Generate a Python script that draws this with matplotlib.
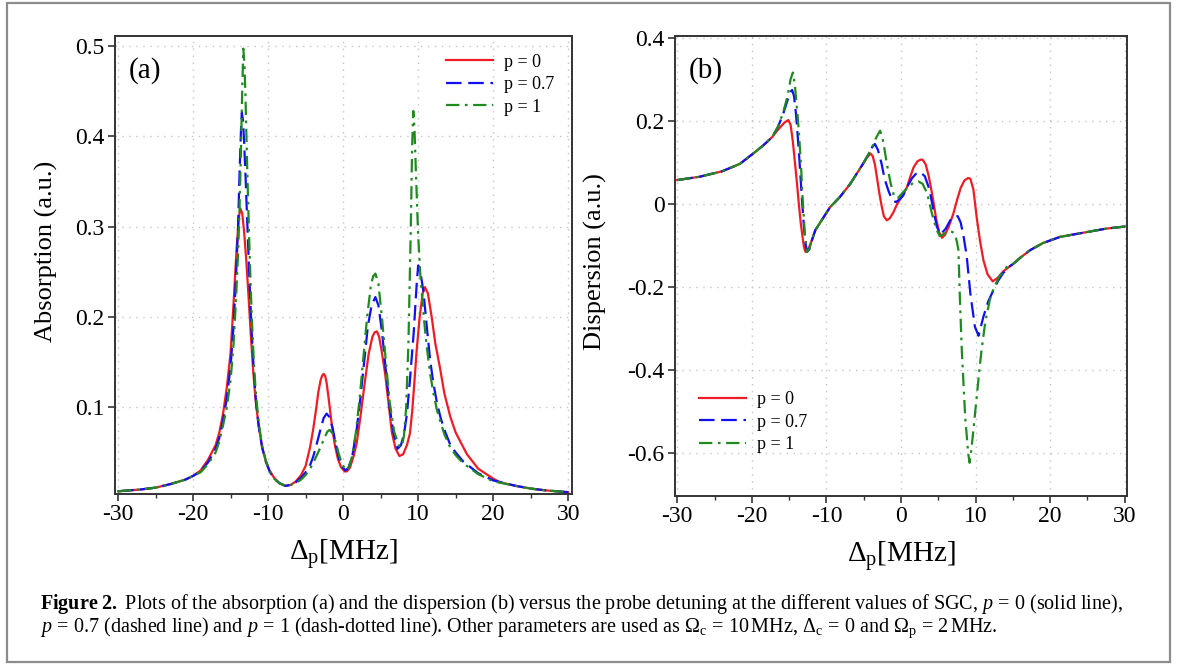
import matplotlib
matplotlib.use("Agg")
import matplotlib.pyplot as plt
from matplotlib.patches import Rectangle
from matplotlib.ticker import MultipleLocator

# ---------------- data ----------------
series_labels = ["p = 0", "p = 0.7", "p = 1"]

# Absorption, p = 0
abs_x0 = [-30, -27, -25, -23, -21, -20, -19, -18, -17, -16.5, -16, -15.5, -15, -14.6, -14.2, -13.9, -13.7,
          -13.45, -13.2, -12.9, -12.6, -12.3, -12, -11.7, -11.3, -10.8, -10.3, -9.8, -9.2, -8.5, -7.7, -7,
          -6.3, -5.6, -5, -4.4, -4, -3.6, -3.3, -3, -2.8, -2.6, -2.4, -2.2, -1.9, -1.5, -1.1, -0.7, -0.3,
          0.2, 0.5, 0.9, 1.4, 1.8, 2.3, 2.8, 3.4, 3.9, 4.2, 4.5, 4.8, 5.1, 5.6, 6, 6.5, 7, 7.5, 8, 8.5,
          8.9, 9.2, 9.5, 9.8, 10.2, 10.6, 10.9, 11.3, 11.8, 12.3, 12.9, 13.5, 14.3, 15, 16, 16.5, 18, 20,
          20.9, 23, 25, 27, 30]
abs_y0 = [0.007, 0.009, 0.011, 0.015, 0.020, 0.024, 0.030, 0.042, 0.058, 0.072, 0.093, 0.122, 0.160, 0.215,
          0.275, 0.310, 0.320, 0.315, 0.295, 0.262, 0.222, 0.180, 0.142, 0.111, 0.082, 0.056, 0.040, 0.030,
          0.022, 0.016, 0.013, 0.014, 0.018, 0.025, 0.035, 0.056, 0.075, 0.098, 0.117, 0.130, 0.135, 0.137,
          0.135, 0.127, 0.108, 0.080, 0.058, 0.043, 0.034, 0.029, 0.029, 0.033, 0.046, 0.060, 0.089, 0.122,
          0.159, 0.178, 0.183, 0.184, 0.178, 0.164, 0.137, 0.108, 0.072, 0.054, 0.046, 0.048, 0.058, 0.071,
          0.095, 0.128, 0.163, 0.200, 0.226, 0.233, 0.226, 0.200, 0.170, 0.144, 0.115, 0.089, 0.072, 0.056,
          0.048, 0.032, 0.021, 0.017, 0.013, 0.010, 0.008, 0.006]

# Absorption, p = 0.7
abs_x1 = [-30, -27, -25, -23, -21, -20, -19, -18, -17, -16.5, -16, -15.5, -15, -14.6, -14.3, -14, -13.8, -13.6,
          -13.5, -13.35, -13.2, -13, -12.8, -12.5, -12.2, -11.9, -11.6, -11.2, -10.8, -10.3, -9.8, -9.2, -8.5,
          -7.7, -7, -6.3, -5.6, -5, -4.4, -4, -3.5, -3, -2.6, -2.2, -1.8, -1.4, -1, -0.6, -0.2, 0.3, 0.7, 1.2,
          1.8, 2.3, 2.8, 3.3, 3.8, 4.3, 4.7, 5.2, 5.7, 6.2, 6.7, 7.25, 7.7, 8.1, 8.5, 8.9, 9.4, 9.8, 10.0,
          10.3, 10.7, 11.2, 11.6, 12, 12.5, 13, 13.5, 14.3, 15, 16, 18, 20, 23, 25, 27, 30]
abs_y1 = [0.007, 0.009, 0.011, 0.015, 0.020, 0.024, 0.029, 0.039, 0.054, 0.066, 0.085, 0.110, 0.145, 0.190,
          0.240, 0.300, 0.360, 0.410, 0.426, 0.418, 0.395, 0.355, 0.310, 0.245, 0.185, 0.140, 0.105, 0.076,
          0.056, 0.040, 0.029, 0.021, 0.016, 0.013, 0.014, 0.017, 0.022, 0.028, 0.036, 0.045, 0.060, 0.076,
          0.088, 0.093, 0.089, 0.077, 0.060, 0.045, 0.035, 0.030, 0.033, 0.045, 0.075, 0.110, 0.150, 0.190,
          0.213, 0.222, 0.213, 0.182, 0.140, 0.100, 0.072, 0.054, 0.058, 0.070, 0.092, 0.130, 0.182, 0.236,
          0.257, 0.250, 0.228, 0.185, 0.152, 0.128, 0.105, 0.088, 0.075, 0.058, 0.050, 0.040, 0.027, 0.019,
          0.013, 0.010, 0.008, 0.006]

# Absorption, p = 1
abs_x2 = [-30, -27, -25, -23, -21, -20, -19, -18, -17, -16.5, -16, -15.5, -15, -14.6, -14.3, -14, -13.8, -13.6,
          -13.45, -13.3, -13.15, -13, -12.8, -12.5, -12.2, -11.9, -11.6, -11.2, -10.8, -10.3, -9.8, -9.2, -8.5,
          -7.7, -7, -6.3, -5.6, -5, -4.4, -4, -3.5, -3, -2.5, -2.1, -1.8, -1.4, -1, -0.6, -0.2, 0.4, 0.8, 1.2,
          1.7, 2.2, 2.7, 3.2, 3.7, 4.0, 4.3, 4.7, 5.2, 5.7, 6.2, 6.8, 7.4, 7.8, 8.1, 8.4, 8.7, 9.0, 9.2, 9.35,
          9.5, 9.7, 10.0, 10.3, 10.7, 11.1, 11.6, 12, 12.5, 13, 13.5, 14.3, 15, 16, 18, 20, 23, 25, 27, 30]
abs_y2 = [0.007, 0.009, 0.011, 0.015, 0.020, 0.024, 0.028, 0.037, 0.050, 0.062, 0.080, 0.100, 0.130, 0.170,
          0.215, 0.270, 0.320, 0.390, 0.450, 0.497, 0.480, 0.440, 0.370, 0.280, 0.205, 0.150, 0.112, 0.080,
          0.058, 0.041, 0.030, 0.021, 0.016, 0.013, 0.014, 0.016, 0.020, 0.025, 0.032, 0.038, 0.047, 0.056,
          0.066, 0.073, 0.075, 0.071, 0.062, 0.049, 0.038, 0.030, 0.034, 0.046, 0.072, 0.110, 0.155, 0.200,
          0.235, 0.245, 0.248, 0.237, 0.197, 0.150, 0.106, 0.073, 0.058, 0.056, 0.068, 0.100, 0.170, 0.290,
          0.390, 0.428, 0.410, 0.360, 0.290, 0.245, 0.204, 0.170, 0.137, 0.117, 0.097, 0.083, 0.070, 0.055,
          0.047, 0.038, 0.026, 0.018, 0.013, 0.010, 0.008, 0.006]

# Dispersion, p = 0
dis_x0 = [-30, -27, -24, -21.6, -19.6, -18.5, -17.3, -16.6, -16.2, -15.6, -15.1, -14.8, -14.5, -14.2, -13.9,
          -13.7, -13.45, -13.2, -13.0, -12.8, -12.5, -12.1, -11.5, -10.5, -9.5, -8.2, -6.8, -5.1, -4.6, -4.1,
          -3.8, -3.5, -3.2, -2.9, -2.6, -2.3, -1.9, -1.5, -1.0, -0.5, 0.2, 0.8, 1.3, 1.7, 2.2, 2.6, 2.9, 3.3,
          3.7, 4.0, 4.3, 4.7, 5.1, 5.5, 5.9, 6.4, 7.0, 7.5, 8.0, 8.5, 9.0, 9.3, 9.7, 10.2, 10.6, 11.05, 11.6,
          12.3, 13.0, 13.7, 14.5, 15.1, 16, 17.3, 19, 21.3, 25, 27.5, 30]
dis_y0 = [0.057, 0.065, 0.078, 0.096, 0.124, 0.140, 0.160, 0.176, 0.184, 0.196, 0.2016, 0.190, 0.150, 0.096,
          0.040, 0.000, -0.045, -0.080, -0.105, -0.116, -0.112, -0.095, -0.064, -0.036, -0.008, 0.016, 0.048,
          0.096, 0.110, 0.121, 0.115, 0.095, 0.060, 0.025, -0.005, -0.030, -0.040, -0.035, -0.020, 0.000,
          0.020, 0.040, 0.068, 0.088, 0.102, 0.106, 0.106, 0.095, 0.068, 0.040, 0.010, -0.035, -0.068, -0.082,
          -0.075, -0.055, -0.025, 0.008, 0.038, 0.056, 0.062, 0.060, 0.035, -0.040, -0.090, -0.136, -0.170,
          -0.187, -0.178, -0.163, -0.152, -0.144, -0.130, -0.112, -0.095, -0.080, -0.068, -0.060, -0.055]

# Dispersion, p = 0.7
dis_x1 = [-30, -27, -24, -21.6, -19.6, -18.5, -17.3, -16.5, -15.8, -15.2, -14.8, -14.6, -14.35, -14.1, -13.9,
          -13.6, -13.3, -13.0, -12.8, -12.6, -12.3, -12.1, -11.5, -10.5, -9.5, -8.2, -6.8, -5.1, -4.4, -3.9,
          -3.5, -3.1, -2.6, -2.2, -1.7, -1.2, -0.7, -0.2, 0.3, 0.8, 1.5, 2.0, 2.6, 3.2, 3.8, 4.3, 4.8, 5.3,
          6.0, 6.6, 7.2, 7.6, 8.0, 8.4, 8.8, 9.3, 9.9, 10.4, 11.05, 11.7, 12.4, 13.0, 13.7, 14.5, 15.1, 16,
          17.3, 19, 21.3, 25, 27.5, 30]
dis_y1 = [0.057, 0.065, 0.078, 0.096, 0.124, 0.140, 0.160, 0.185, 0.216, 0.250, 0.270, 0.274, 0.260, 0.220,
          0.176, 0.100, 0.016, -0.060, -0.096, -0.116, -0.110, -0.097, -0.064, -0.036, -0.008, 0.016, 0.048,
          0.096, 0.118, 0.135, 0.144, 0.130, 0.096, 0.060, 0.032, 0.010, 0.004, 0.010, 0.020, 0.040, 0.062,
          0.072, 0.076, 0.066, 0.035, -0.010, -0.055, -0.074, -0.060, -0.040, -0.030, -0.030, -0.045, -0.080,
          -0.125, -0.216, -0.296, -0.318, -0.272, -0.235, -0.208, -0.186, -0.167, -0.152, -0.144, -0.130,
          -0.112, -0.095, -0.080, -0.068, -0.060, -0.055]

# Dispersion, p = 1
dis_x2 = [-30, -27, -24, -21.6, -19.6, -18.5, -17.3, -16.5, -15.8, -15.2, -14.8, -14.5, -14.25, -14.0, -13.7,
          -13.4, -13.2, -12.9, -12.6, -12.3, -12.1, -11.5, -10.5, -9.5, -8.2, -6.8, -5.1, -4.4, -3.8, -3.3,
          -2.8, -2.5, -2.2, -1.9, -1.4, -0.9, -0.4, 0.3, 1.0, 1.6, 2.3, 2.9, 3.5, 4.1, 4.7, 5.2, 5.8, 6.4,
          6.9, 7.25, 7.5, 7.7, 7.9, 8.15, 8.6, 9.0, 9.2, 9.45, 9.9, 10.4, 10.8, 11.3, 11.9, 12.5, 13.2, 14.2,
          15.1, 16, 17.3, 19, 21.3, 25, 27.5, 30]
dis_y2 = [0.057, 0.065, 0.078, 0.096, 0.124, 0.140, 0.160, 0.185, 0.220, 0.260, 0.300, 0.316, 0.290, 0.240,
          0.176, 0.090, 0.016, -0.070, -0.116, -0.110, -0.097, -0.064, -0.036, -0.008, 0.016, 0.048, 0.096,
          0.118, 0.140, 0.160, 0.176, 0.160, 0.130, 0.096, 0.050, 0.016, 0.014, 0.028, 0.040, 0.050, 0.054,
          0.048, 0.025, -0.020, -0.060, -0.078, -0.072, -0.066, -0.068, -0.075, -0.092, -0.112, -0.230, -0.352,
          -0.512, -0.600, -0.624, -0.590, -0.510, -0.420, -0.352, -0.285, -0.232, -0.200, -0.175, -0.152,
          -0.144, -0.130, -0.112, -0.095, -0.080, -0.068, -0.060, -0.055]

abs_ticks = [0.1, 0.2, 0.3, 0.4, 0.5]
abs_ticklabels = ["0.1", "0.2", "0.3", "0.4", "0.5"]
dis_ticks = [-0.6, -0.4, -0.2, 0.0, 0.2, 0.4]
dis_ticklabels = ["-0.6", "-0.4", "-0.2", "0", "0.2", "0.4"]
x_ticks = [-30, -20, -10, 0, 10, 20, 30]
x_ticklabels = ["-30", "-20", "-10", "0", "10", "20", "30"]

caption_1 = (r"$\mathbf{Figure\ 2.}$ Plots of the absorption (a) and the dispersion (b) versus the probe "
             r"detuning at the different values of SGC, $p\,=\,0$ (solid line),")
caption_2 = (r"$p\,=\,0.7$ (dashed line) and $p\,=\,1$ (dash-dotted line). Other parameters are used as "
             r"$\Omega_{\mathrm{c}}\,=\,10\,$MHz, $\Delta_{\mathrm{c}}\,=\,0$ and $\Omega_{\mathrm{p}}\,=\,2\,$MHz.")

# ---------------- style ----------------
plt.rcParams["font.family"] = ["Liberation Serif", "DejaVu Serif"]
plt.rcParams["mathtext.fontset"] = "custom"
plt.rcParams["mathtext.rm"] = "Liberation Serif"
plt.rcParams["mathtext.it"] = "Liberation Serif:italic"
plt.rcParams["mathtext.bf"] = "Liberation Serif:bold"
plt.rcParams["axes.unicode_minus"] = False

colors = ["#ee1c25", "#1010f0", "#1f8a1f"]
styles = ["-", (0, (7, 3)), (0, (6, 2.5, 1.2, 2.5))]
spine_col = "#333333"

W, H = 1182, 668
fig = plt.figure(figsize=(W / 100, H / 100), dpi=100)
fig.patch.set_facecolor("white")

def box(l, t, r, b):
    return [l / W, 1 - b / H, (r - l) / W, (b - t) / H]

ax_a = fig.add_axes(box(115, 36, 572, 494))
ax_b = fig.add_axes(box(675, 36, 1127, 496))

def style_axes(ax):
    for s in ax.spines.values():
        s.set_color(spine_col)
        s.set_linewidth(1.4)
    ax.tick_params(axis="both", which="major", direction="out", length=5, width=1.2,
                   color=spine_col, labelsize=17, pad=2.5)
    ax.tick_params(axis="x", which="minor", direction="out", length=3, width=1.0, color=spine_col)
    ax.xaxis.set_minor_locator(MultipleLocator(5))
    ax.grid(True, which="major", linestyle=(0, (1, 4)), color="#c4c4c4", linewidth=1.0)
    ax.set_axisbelow(True)
    ax.set_xticks(x_ticks)
    ax.set_xticklabels(x_ticklabels)

# Panel (a)
for xs, ys, c, ls, lab in zip([abs_x0, abs_x1, abs_x2], [abs_y0, abs_y1, abs_y2], colors, styles, series_labels):
    ax_a.plot(xs, ys, color=c, linestyle=ls, linewidth=1.6, label=lab)
style_axes(ax_a)
ax_a.set_xlim(-30.4, 30.5)
ax_a.set_ylim(0.004, 0.511)
ax_a.set_yticks(abs_ticks)
ax_a.set_yticklabels(abs_ticklabels)
ax_a.set_ylabel("Absorption (a.u.)", fontsize=19)
ax_a.yaxis.set_label_coords(-0.125, 0.53)
ax_a.set_xlabel(r"$\Delta_{\mathrm{p}}$[MHz]", fontsize=21, labelpad=8)
ax_a.text(0.03, 0.955, "(a)", transform=ax_a.transAxes, fontsize=21, va="top", ha="left")
ax_a.legend(loc="upper right", bbox_to_anchor=(0.985, 0.985), frameon=False, fontsize=13,
            handlelength=2.6, handletextpad=0.6, labelspacing=0.3, borderaxespad=0.2)

# Panel (b)
for xs, ys, c, ls, lab in zip([dis_x0, dis_x1, dis_x2], [dis_y0, dis_y1, dis_y2], colors, styles, series_labels):
    ax_b.plot(xs, ys, color=c, linestyle=ls, linewidth=1.6, label=lab)
style_axes(ax_b)
ax_b.set_xlim(-30.3, 30.3)
ax_b.set_ylim(-0.704, 0.404)
ax_b.set_yticks(dis_ticks)
ax_b.set_yticklabels(dis_ticklabels)
ax_b.set_ylabel("Dispersion (a.u.)", fontsize=19)
ax_b.yaxis.set_label_coords(-0.15, 0.51)
ax_b.set_xlabel(r"$\Delta_{\mathrm{p}}$[MHz]", fontsize=21, labelpad=8)
ax_b.text(0.03, 0.955, "(b)", transform=ax_b.transAxes, fontsize=21, va="top", ha="left")
ax_b.legend(loc="lower left", bbox_to_anchor=(0.03, 0.07), frameon=False, fontsize=13,
            handlelength=2.6, handletextpad=0.6, labelspacing=0.3, borderaxespad=0.2)

# Caption
cap_fs = 12
t1 = fig.text(40 / W, 1 - 609 / H, caption_1, fontsize=cap_fs, ha="left", va="baseline")
t2 = fig.text(40 / W, 1 - 632 / H, caption_2, fontsize=cap_fs, ha="left", va="baseline")
fig.canvas.draw()
r = fig.canvas.get_renderer()
w1 = t1.get_window_extent(r).width
scale = 1083.0 / w1
t1.set_fontsize(cap_fs * scale)
t2.set_fontsize(cap_fs * scale)

# Figure frame
fig.patches.append(Rectangle((7 / W, 1 - 662 / H), (1170 - 7) / W, (662 - 3) / H, transform=fig.transFigure,
                             fill=False, edgecolor="#8c8c8c", linewidth=1.6))

fig.savefig("out.png", dpi=100, facecolor="white")
